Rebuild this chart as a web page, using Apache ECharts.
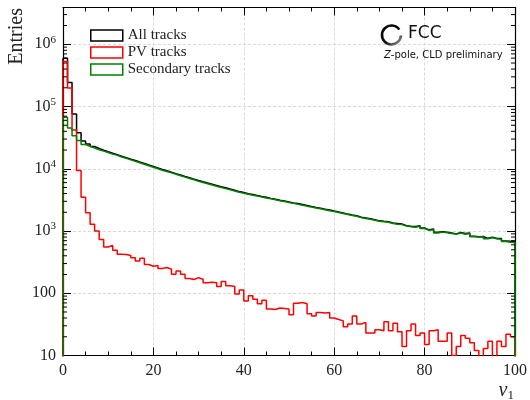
<!DOCTYPE html>
<html>
<head>
<meta charset="utf-8">
<script src="https://cdn.jsdelivr.net/npm/echarts@6/dist/echarts.min.js"></script>
<style>
  html, body { margin: 0; padding: 0; background: #fff; }
  #chart { width: 530px; height: 400px; }
</style>
</head>
<body>
<div id="chart"></div>
<script>
// Track multiplicity histogram, one bin per unit of v1 from 0 to 100.
const BIN_START = 0;
const BIN_WIDTH = 1;

const seriesNames = ['All tracks', 'PV tracks', 'Secondary tracks'];

const allTracks = [
  597000, 244000, 76000, 37800, 28000, 24970, 22780, 21200, 19928, 18754,
  17784, 16891, 15924, 15121, 14303, 13572, 12830, 12165, 11490, 10872,
  10279, 9749, 9309, 8843, 8352, 7978, 7552, 7173, 6816, 6478,
  6168, 5897, 5650, 5397, 5128, 4955, 4732, 4528, 4297, 4163,
  3975, 3861, 3720, 3588, 3477, 3346, 3235, 3128, 3027, 2926,
  2825, 2759, 2671, 2578, 2477, 2393, 2319, 2238, 2169, 2090,
  2018, 1946, 1869, 1812, 1763, 1672, 1624, 1573, 1513, 1456,
  1435, 1415, 1345, 1323, 1294, 1214, 1195, 1182, 1211, 1123,
  1045, 1075, 956, 977, 957, 933, 900, 944, 911, 929,
  826, 812, 816, 763, 797, 756, 757, 694, 682, 675
];

const pvTracks = [
  530000, 199000, 42000, 9400, 3500, 1970, 1280, 1000, 728, 554,
  584, 491, 424, 421, 403, 372, 330, 365, 290, 272,
  279, 249, 259, 243, 202, 228, 202, 173, 166, 178,
  168, 147, 150, 147, 128, 155, 132, 128, 97, 113,
  75, 91, 80, 68, 77, 56, 55, 58, 57, 56,
  45, 69, 71, 68, 47, 43, 49, 48, 49, 40,
  38, 36, 29, 32, 43, 32, 34, 23, 23, 26,
  25, 35, 25, 33, 24, 14, 25, 32, 21, 23,
  15, 25, 26, 17, 17, 23, 10, 14, 21, 19,
  16, 12, 6, 13, 17, 6, 17, 14, 22, 20
];

const secondaryTracks = [
  67000, 45000, 34000, 28400, 24500, 23000, 21500, 20200, 19200, 18200,
  17200, 16400, 15500, 14700, 13900, 13200, 12500, 11800, 11200, 10600,
  10000, 9500, 9050, 8600, 8150, 7750, 7350, 7000, 6650, 6300,
  6000, 5750, 5500, 5250, 5000, 4800, 4600, 4400, 4200, 4050,
  3900, 3770, 3640, 3520, 3400, 3290, 3180, 3070, 2970, 2870,
  2780, 2690, 2600, 2510, 2430, 2350, 2270, 2190, 2120, 2050,
  1980, 1910, 1840, 1780, 1720, 1640, 1590, 1550, 1490, 1430,
  1410, 1380, 1320, 1290, 1270, 1200, 1170, 1150, 1190, 1100,
  1030, 1050, 930, 960, 940, 910, 890, 930, 890, 910,
  810, 800, 810, 750, 780, 750, 740, 680, 660, 655
];

const xTickLabels = ['0', '20', '40', '60', '80', '100'];
const yDecades = [1, 2, 3, 4, 5, 6];

const X_MIN = 0, X_MAX = 100;
const Y_MIN = 10, Y_MAX = 3.9e6;
const FLOOR = 1; // below the axis range, closes the step outline

const SERIF = "'Liberation Serif', 'DejaVu Serif', serif";
const SANS = "'DejaVu Sans', sans-serif";

// Outline of a histogram as a step path over the bin edges.
function stepPath(values) {
  const pts = [[BIN_START, FLOOR]];
  values.forEach((v, i) => pts.push([BIN_START + i * BIN_WIDTH, v]));
  const end = BIN_START + values.length * BIN_WIDTH;
  pts.push([end, values[values.length - 1]]);
  pts.push([end, FLOOR]);
  return pts;
}

// Minor log ticks (2..9 per decade).
const yMinorTicks = [];
yDecades.forEach(e => {
  for (let m = 2; m <= 9; m++) {
    const v = m * Math.pow(10, e);
    if (v < Y_MAX) yMinorTicks.push(v);
  }
});

const gridLine = { show: true, lineStyle: { color: '#d9d9d9', width: 1, type: [3, 2] } };
const frame = { show: true, onZero: false, lineStyle: { color: '#000', width: 1.2 } };

function xAxisDef(pos, labels) {
  return {
    type: 'value', position: pos, min: X_MIN, max: X_MAX, interval: 20,
    axisLine: frame,
    axisTick: { show: true, inside: true, length: 8, lineStyle: { color: '#000', width: 1 } },
    minorTick: { show: true, splitNumber: 4, length: 4, lineStyle: { color: '#000', width: 1 } },
    splitLine: labels ? gridLine : { show: false },
    axisLabel: labels ? {
      show: true, margin: 7, color: '#222', fontFamily: SERIF, fontSize: 16,
      formatter: v => xTickLabels[Math.round(v / 20)]
    } : { show: false }
  };
}

function yLabel(v) {
  const e = Math.log10(v);
  const r = Math.round(e);
  if (Math.abs(e - r) > 1e-6 || yDecades.indexOf(r) < 0) return '';
  if (r === 1) return '{b|10}';
  if (r === 2) return '{b|100}';
  return '{b|10}{s|' + r + '}';
}

function yAxisDef(pos, labels) {
  return {
    type: 'log', logBase: 10, position: pos, min: Y_MIN, max: Y_MAX,
    axisLine: frame,
    axisTick: { show: true, inside: true, length: 8, lineStyle: { color: '#000', width: 1 } },
    minorTick: { show: false },
    splitLine: labels ? gridLine : { show: false },
    axisLabel: labels ? {
      show: true, margin: 7, color: '#222', formatter: yLabel,
      rich: {
        b: { fontFamily: SERIF, fontSize: 16, color: '#222' },
        s: { fontFamily: SERIF, fontSize: 11, color: '#222', padding: [0, 0, 9, 0] }
      }
    } : { show: false }
  };
}

const chart = echarts.init(document.getElementById('chart'), null, { renderer: 'canvas' });

const option = {
  backgroundColor: '#fff',
  animation: false,
  grid: { left: 63, right: 15, top: 7.5, bottom: 44.5, containLabel: false },
  xAxis: [xAxisDef('bottom', true), xAxisDef('top', false)],
  yAxis: [yAxisDef('left', true), yAxisDef('right', false)],
  legend: {
    orient: 'vertical', left: 85, top: 22,
    itemWidth: 32, itemHeight: 11, itemGap: 0, icon: 'rect',
    textStyle: { fontFamily: SERIF, fontSize: 15, color: '#222', lineHeight: 17 },
    data: [
      { name: seriesNames[0], itemStyle: { color: 'rgba(0,0,0,0)', borderColor: '#000', borderWidth: 1.5 } },
      { name: seriesNames[1], itemStyle: { color: 'rgba(0,0,0,0)', borderColor: '#ff0000', borderWidth: 1.5 } },
      { name: seriesNames[2], itemStyle: { color: 'rgba(0,0,0,0)', borderColor: '#008000', borderWidth: 1.5 } }
    ]
  },
  series: [
    {
      name: seriesNames[0], type: 'line', step: 'end', showSymbol: false, symbol: 'none',
      data: stepPath(allTracks), clip: true,
      lineStyle: { color: '#000', width: 1.5 }, itemStyle: { color: '#000' }, z: 3
    },
    {
      name: seriesNames[1], type: 'line', step: 'end', showSymbol: false, symbol: 'none',
      data: stepPath(pvTracks), clip: true,
      lineStyle: { color: '#ff0000', width: 1.5 }, itemStyle: { color: '#ff0000' }, z: 4
    },
    {
      name: seriesNames[2], type: 'line', step: 'end', showSymbol: false, symbol: 'none',
      data: stepPath(secondaryTracks), clip: true,
      lineStyle: { color: '#008000', width: 1.5 }, itemStyle: { color: '#008000' }, z: 5
    },
    {
      // minor ticks of the log axis on both vertical frame edges
      type: 'custom', silent: true, clip: false, z: 10,
      xAxisIndex: 0, yAxisIndex: 0,
      data: yMinorTicks.map(v => [X_MIN, v]),
      renderItem: (params, api) => {
        const v = api.value(1);
        const l = api.coord([X_MIN, v]);
        const r = api.coord([X_MAX, v]);
        const st = { stroke: '#000', lineWidth: 1 };
        return {
          type: 'group',
          children: [
            { type: 'line', shape: { x1: l[0], y1: l[1], x2: l[0] + 4, y2: l[1] }, style: st },
            { type: 'line', shape: { x1: r[0] - 4, y1: r[1], x2: r[0], y2: r[1] }, style: st }
          ]
        };
      }
    }
  ],
  graphic: [
    {
      type: 'text', left: 7, top: 8, rotation: Math.PI / 2,
      style: { text: 'Entries', fontFamily: SERIF, fontSize: 20, fill: '#222' }
    },
    {
      type: 'text', right: 16, top: 381,
      style: {
        text: '{v|v}{s|1}', fill: '#222',
        rich: {
          v: { fontFamily: SERIF, fontStyle: 'italic', fontSize: 20, fill: '#222' },
          s: { fontFamily: SERIF, fontSize: 13, fill: '#222', padding: [10, 0, 0, 0] }
        }
      }
    },
    {
      type: 'arc', z: 20,
      shape: { cx: 391.5, cy: 35, r: 9.5, startAngle: 0.05, endAngle: -0.6, clockwise: true },
      style: {
        fill: 'none', lineWidth: 2.6, lineCap: 'butt',
        stroke: new echarts.graphic.LinearGradient(0, 0, 1, 1, [
          { offset: 0, color: '#000' },
          { offset: 0.55, color: '#111' },
          { offset: 1, color: '#cfcfcf' }
        ])
      }
    },
    {
      type: 'text', left: 408, top: 25, z: 20,
      style: { text: 'FCC', fontFamily: SANS, fontSize: 17, fill: '#111' }
    },
    {
      type: 'text', left: 384, top: 50, z: 20,
      style: {
        text: '{i|Z}{n|-pole, CLD preliminary}',
        rich: {
          i: { fontFamily: SANS, fontStyle: 'italic', fontSize: 10, fill: '#111' },
          n: { fontFamily: SANS, fontSize: 10, fill: '#111' }
        }
      }
    }
  ]
};

chart.setOption(option);
</script>
</body>
</html>
